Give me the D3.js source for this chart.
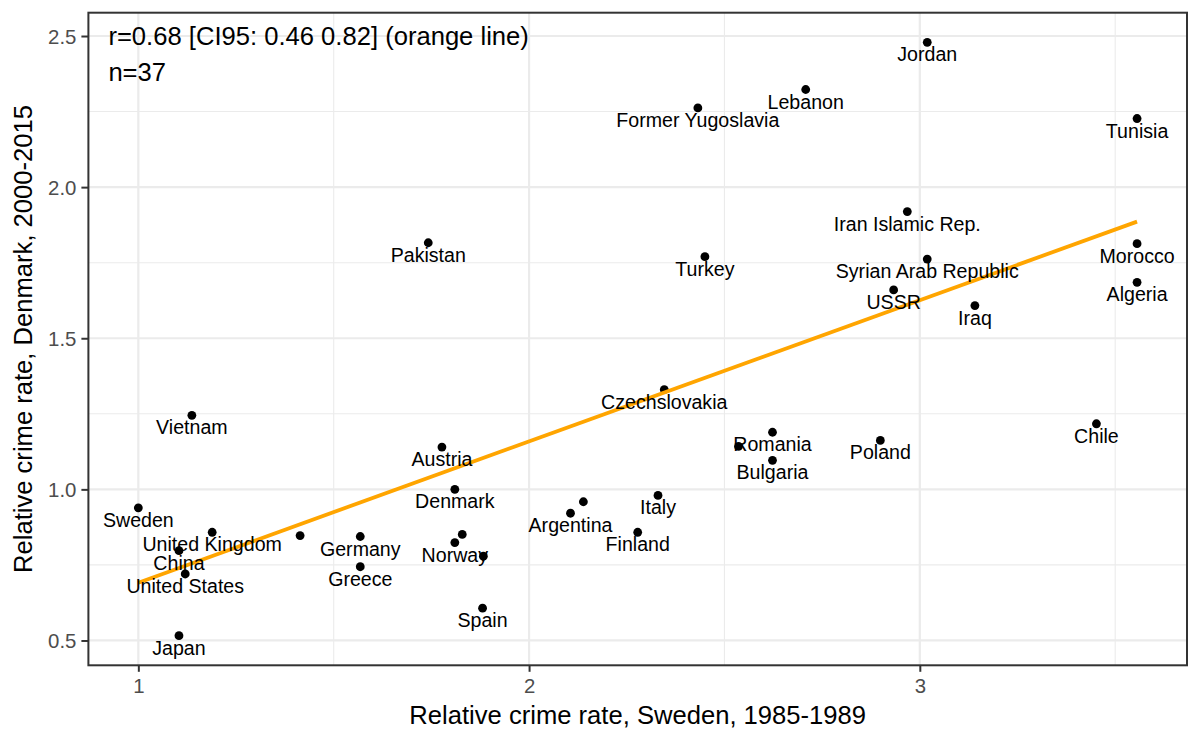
<!DOCTYPE html>
<html>
<head>
<meta charset="utf-8">
<script src="https://cdn.jsdelivr.net/npm/d3@7"></script>
<style>
  html, body { margin: 0; padding: 0; background: #ffffff; }
  svg { display: block; font-family: "Liberation Sans", Arial, sans-serif; }
</style>
</head>
<body>
<svg id="chart" width="1200" height="741"></svg>
<script>
// ---- data ----
const countries = [
  "Pakistan", "Jordan", "Lebanon", "Former Yugoslavia", "Tunisia", "Iran Islamic Rep.",
  "Morocco", "Turkey", "Syrian Arab Republic", "USSR", "Algeria", "Iraq",
  "Vietnam", "Austria", "Denmark", "Sweden", "Argentina", "", "United Kingdom", "",
  "Germany", "Norway", "", "", "China", "United States", "Greece", "Spain", "Japan",
  "Czechslovakia", "Romania", "", "Bulgaria", "Poland", "Chile", "Italy", "Finland"
];
const swedenRate = [
  1.742, 3.019, 2.708, 2.432, 3.556, 2.968,
  3.556, 2.450, 3.019, 2.933, 3.556, 3.141,
  1.137, 1.777, 1.810, 1.000, 2.106, 2.139, 1.189, 1.414,
  1.568, 1.810, 1.829, 1.883, 1.104, 1.120, 1.568, 1.881, 1.104,
  2.346, 2.623, 2.536, 2.623, 2.899, 3.452, 2.330, 2.278
];
const denmarkRate = [
  1.816, 2.479, 2.323, 2.262, 2.227, 1.919,
  1.813, 1.770, 1.762, 1.660, 1.685, 1.608,
  1.245, 1.140, 1.000, 0.939, 0.921, 0.959, 0.858, 0.847,
  0.844, 0.824, 0.851, 0.779, 0.797, 0.720, 0.744, 0.607, 0.516,
  1.330, 1.189, 1.142, 1.096, 1.162, 1.217, 0.980, 0.858
];
const xTicks = [1, 2, 3];
const xMinor = [1.5, 2.5, 3.5];
const yTicks = [0.5, 1.0, 1.5, 2.0, 2.5];
const yMinor = [0.75, 1.25, 1.75, 2.25];
const annotationLines = ["r=0.68 [CI95: 0.46 0.82] (orange line)", "n=37"];
const xTitle = "Relative crime rate, Sweden, 1985-1989";
const yTitle = "Relative crime rate, Denmark, 2000-2015";

// ---- layout ----
const svg = d3.select("#chart");
const panel = { left: 88.4, right: 1187, top: 12.7, bottom: 665.3 };

function expand(ext, f) { const r = ext[1] - ext[0]; return [ext[0] - r * f, ext[1] + r * f]; }
const xScale = d3.scaleLinear().domain(expand(d3.extent(swedenRate), 0.05)).range([panel.left, panel.right]);
const yScale = d3.scaleLinear().domain(expand(d3.extent(denmarkRate), 0.05)).range([panel.bottom, panel.top]);

const data = countries.map((c, i) => ({ name: c, x: swedenRate[i], y: denmarkRate[i] }));

// ---- gridlines ----
const grid = svg.append("g");
grid.selectAll(".xminor").data(xMinor).join("line")
  .attr("x1", d => xScale(d)).attr("x2", d => xScale(d))
  .attr("y1", panel.top).attr("y2", panel.bottom)
  .attr("stroke", "#ebebeb").attr("stroke-width", 1.1);
grid.selectAll(".yminor").data(yMinor).join("line")
  .attr("y1", d => yScale(d)).attr("y2", d => yScale(d))
  .attr("x1", panel.left).attr("x2", panel.right)
  .attr("stroke", "#ebebeb").attr("stroke-width", 1.1);
grid.selectAll(".xmajor").data(xTicks).join("line")
  .attr("x1", d => xScale(d)).attr("x2", d => xScale(d))
  .attr("y1", panel.top).attr("y2", panel.bottom)
  .attr("stroke", "#ebebeb").attr("stroke-width", 2.2);
grid.selectAll(".ymajor").data(yTicks).join("line")
  .attr("y1", d => yScale(d)).attr("y2", d => yScale(d))
  .attr("x1", panel.left).attr("x2", panel.right)
  .attr("stroke", "#ebebeb").attr("stroke-width", 2.2);

// ---- points ----
svg.append("g").selectAll("circle").data(data).join("circle")
  .attr("cx", d => xScale(d.x)).attr("cy", d => yScale(d.y))
  .attr("r", 4.4).attr("fill", "#000");

// ---- regression line (OLS through the points) ----
const mx = d3.mean(swedenRate), my = d3.mean(denmarkRate);
let sxy = 0, sxx = 0;
swedenRate.forEach((x, i) => { sxy += (x - mx) * (denmarkRate[i] - my); sxx += (x - mx) * (x - mx); });
const slope = sxy / sxx, intercept = my - slope * mx;
const xr = d3.extent(swedenRate);
const fit = xr.map(x => ({ x: x, y: intercept + slope * x }));
svg.append("path").datum(fit)
  .attr("d", d3.line().x(d => xScale(d.x)).y(d => yScale(d.y)))
  .attr("fill", "none").attr("stroke", "#FFA500").attr("stroke-width", 3.8);

// ---- labels ----
svg.append("g").selectAll("text").data(data.filter(d => d.name !== "")).join("text")
  .attr("x", d => xScale(d.x)).attr("y", d => yScale(d.y) + 19)
  .attr("text-anchor", "middle").attr("font-size", 19.6).attr("fill", "#000")
  .text(d => d.name);

// ---- annotation ----
svg.append("g").selectAll("text").data(annotationLines).join("text")
  .attr("x", panel.left + 20).attr("y", (d, i) => 45 + i * 36)
  .attr("font-size", 25.6).attr("fill", "#000")
  .text(d => d);

// ---- axes ----
const xAxis = svg.append("g").attr("transform", `translate(0,${panel.bottom})`)
  .call(d3.axisBottom(xScale).tickValues(xTicks).tickFormat(d3.format("d")).tickSize(6.5).tickPadding(6));
const yAxis = svg.append("g").attr("transform", `translate(${panel.left},0)`)
  .call(d3.axisLeft(yScale).tickValues(yTicks).tickFormat(d3.format(".1f")).tickSize(7).tickPadding(5));
[xAxis, yAxis].forEach(a => {
  a.select(".domain").remove();
  a.selectAll(".tick line").attr("stroke", "#333333").attr("stroke-width", 2);
  a.selectAll(".tick text").attr("fill", "#4d4d4d").attr("font-size", 20.4)
    .attr("font-family", "'Liberation Sans', Arial, sans-serif");
});
xAxis.selectAll(".tick text").attr("dy", null).attr("y", 27.4);
yAxis.selectAll(".tick text").attr("dy", "0.36em");

// ---- panel border ----
svg.append("rect")
  .attr("x", panel.left).attr("y", panel.top)
  .attr("width", panel.right - panel.left).attr("height", panel.bottom - panel.top)
  .attr("fill", "none").attr("stroke", "#333333").attr("stroke-width", 2);

// ---- axis titles ----
svg.append("text")
  .attr("x", (panel.left + panel.right) / 2).attr("y", 724)
  .attr("text-anchor", "middle").attr("font-size", 25.6).attr("fill", "#000")
  .text(xTitle);
svg.append("text")
  .attr("transform", `translate(32,${(panel.top + panel.bottom) / 2}) rotate(-90)`)
  .attr("text-anchor", "middle").attr("font-size", 25.6).attr("fill", "#000")
  .text(yTitle);
</script>
</body>
</html>
